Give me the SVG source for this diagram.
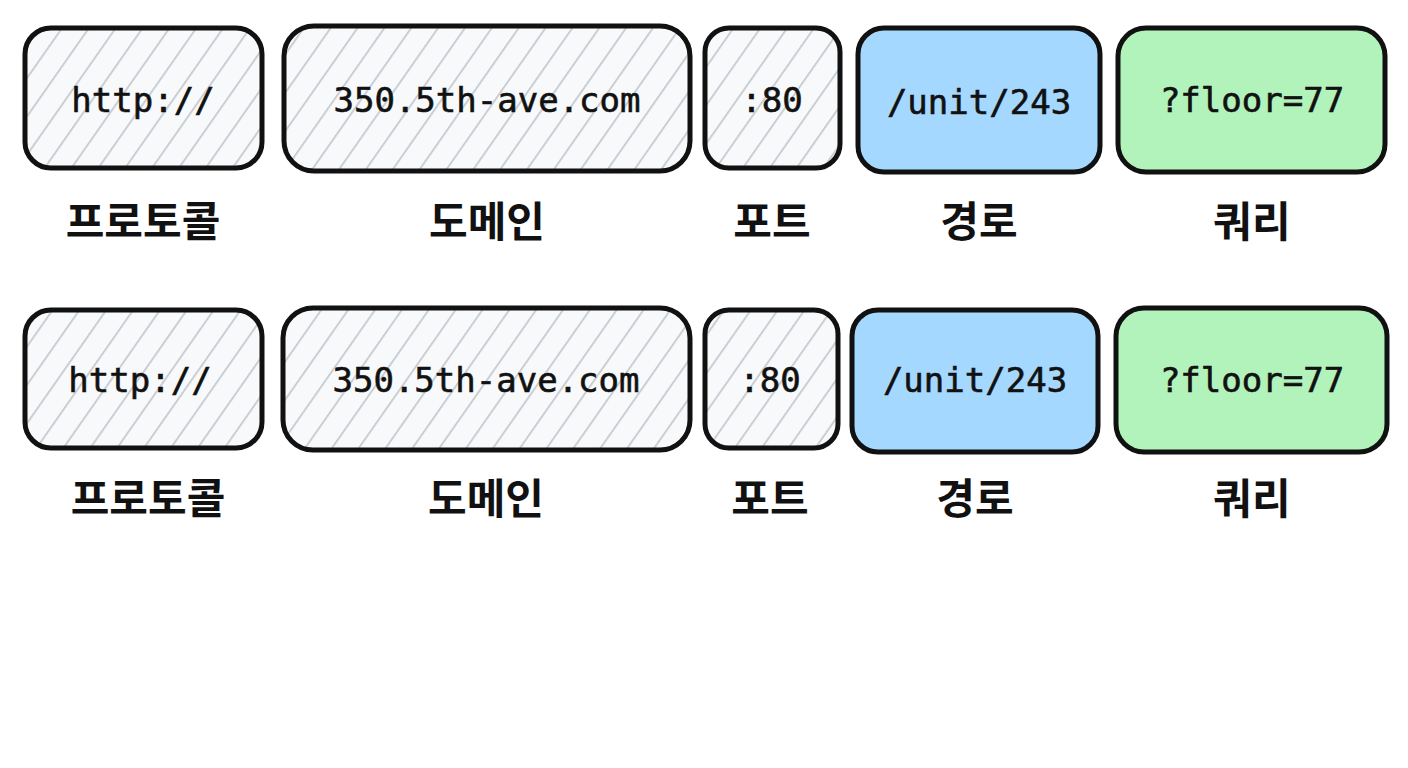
<svg xmlns="http://www.w3.org/2000/svg" width="1408" height="768" viewBox="0 0 1408 768">
<defs>
<pattern id="h" patternUnits="userSpaceOnUse" width="22" height="22" patternTransform="rotate(35)">
<rect width="22" height="22" fill="#f8f9fa"/>
<line x1="0" y1="0" x2="0" y2="22" stroke="#c5c9d0" stroke-width="3.5"/>
</pattern>
</defs>
<style>
.b{stroke:#111;stroke-width:5;}
.g{fill:url(#h);}
.blue{fill:#a5d8ff;}
.green{fill:#b2f2bb;}
.t{font-family:"DejaVu Sans Mono","Liberation Mono",monospace;font-size:34px;font-weight:500;fill:#111;text-anchor:middle;dominant-baseline:central;stroke:#111;stroke-width:0.6;}
.k{font-family:"Noto Sans CJK KR","Noto Sans",sans-serif;font-size:42px;font-weight:bold;fill:#111;text-anchor:middle;dominant-baseline:central;}
</style>
<rect width="1408" height="768" fill="#fff"/>
<g id="row1">
<g id="n1"><rect class="b g" x="25" y="28" width="237" height="140" rx="26"/><text class="t" x="143" y="100">http://</text><text class="k" x="143" y="218">프로토콜</text></g>
<g id="n2"><rect class="b g" x="284" y="26" width="406" height="145" rx="30"/><text class="t" x="487" y="100">350.5th-ave.com</text><text class="k" x="487" y="218">도메인</text></g>
<g id="n3"><rect class="b g" x="705" y="28" width="135" height="140" rx="24"/><text class="t" x="772" y="100">:80</text><text class="k" x="772" y="218">포트</text></g>
<g id="n4"><rect class="b blue" x="858" y="28" width="242" height="144" rx="26"/><text class="t" x="979" y="102">/unit/243</text><text class="k" x="979" y="218">경로</text></g>
<g id="n5"><rect class="b green" x="1118" y="28" width="267" height="144" rx="28"/><text class="t" x="1252" y="100">?floor=77</text><text class="k" x="1252" y="218">쿼리</text></g>
</g>
<g id="row2">
<g id="m1"><rect class="b g" x="25" y="310" width="237" height="138" rx="26"/><text class="t" x="140" y="380">http://</text><text class="k" x="148" y="495">프로토콜</text></g>
<g id="m2"><rect class="b g" x="283" y="308" width="407" height="142" rx="30"/><text class="t" x="486" y="380">350.5th-ave.com</text><text class="k" x="486" y="495">도메인</text></g>
<g id="m3"><rect class="b g" x="705" y="310" width="133" height="138" rx="24"/><text class="t" x="770" y="380">:80</text><text class="k" x="770" y="495">포트</text></g>
<g id="m4"><rect class="b blue" x="852" y="310" width="246" height="142" rx="26"/><text class="t" x="975" y="380">/unit/243</text><text class="k" x="975" y="495">경로</text></g>
<g id="m5"><rect class="b green" x="1116" y="308" width="271" height="144" rx="28"/><text class="t" x="1252" y="380">?floor=77</text><text class="k" x="1252" y="495">쿼리</text></g>
</g>
<g id="connectors"/>
</svg>
